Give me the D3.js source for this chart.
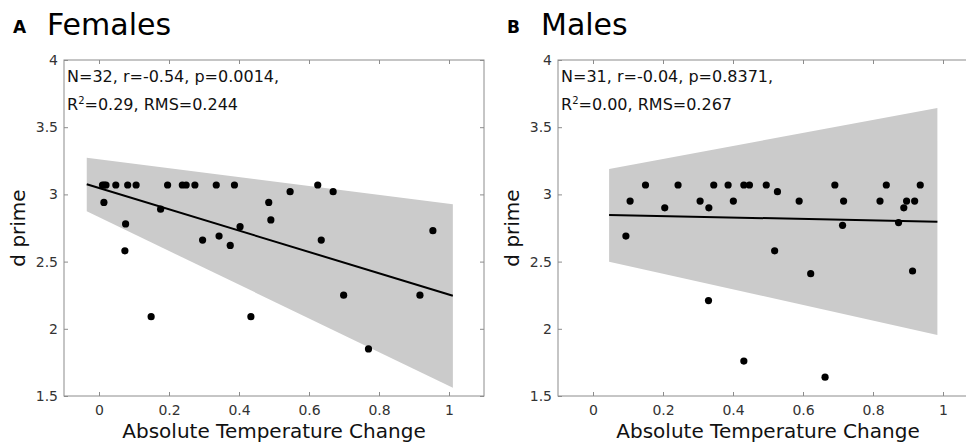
<!DOCTYPE html>
<html>
<head>
<meta charset="utf-8">
<script src="https://cdn.jsdelivr.net/npm/d3@7"></script>
<style>
  body { margin: 0; background: #fff; }
  svg { font-family: "DejaVu Sans", sans-serif; display: block; }
</style>
</head>
<body>
<svg id="chart" width="966" height="446"></svg>
<script>
// values
const xTicks = [0, 0.2, 0.4, 0.6, 0.8, 1];
const yTicks = [1.5, 2, 2.5, 3, 3.5, 4];

const femalesX = [0.010, 0.020, 0.014, 0.048, 0.082, 0.106, 0.076, 0.074, 0.149, 0.176,
                  0.196, 0.238, 0.249, 0.274, 0.296, 0.335, 0.343, 0.375, 0.387, 0.403,
                  0.434, 0.485, 0.491, 0.546, 0.625, 0.635, 0.669, 0.699, 0.770, 0.917,
                  0.954, 0.015];
const femalesY = [3.07, 3.07, 2.94, 3.07, 3.07, 3.07, 2.78, 2.58, 2.09, 2.89,
                  3.07, 3.07, 3.07, 3.07, 2.66, 3.07, 2.69, 2.62, 3.07, 2.76,
                  2.09, 2.94, 2.81, 3.02, 3.07, 2.66, 3.02, 2.25, 1.85, 2.25,
                  2.73, 3.07];
const femalesFitX = [-0.035, 1.011];
const femalesFitY = [3.075, 2.246];
const femalesBandLow = [2.874, 1.562];
const femalesBandHigh = [3.273, 2.926];
const femalesStats = ["N=32, r=-0.54, p=0.0014,", "0.29", "0.244"];

const malesX = [0.094, 0.106, 0.150, 0.205, 0.243, 0.306, 0.331, 0.330, 0.345, 0.386,
                0.401, 0.431, 0.447, 0.431, 0.495, 0.527, 0.519, 0.589, 0.622, 0.663,
                0.691, 0.716, 0.713, 0.820, 0.838, 0.873, 0.888, 0.896, 0.913, 0.919,
                0.935];
const malesY = [2.69, 2.95, 3.07, 2.90, 3.07, 2.95, 2.90, 2.21, 3.07, 3.07,
                2.95, 3.07, 3.07, 1.76, 3.07, 3.02, 2.58, 2.95, 2.41, 1.64,
                3.07, 2.95, 2.77, 2.95, 3.07, 2.79, 2.90, 2.95, 2.43, 2.95,
                3.07];
const malesFitX = [0.046, 0.984];
const malesFitY = [2.847, 2.797];
const malesBandLow = [2.499, 1.954];
const malesBandHigh = [3.189, 3.643];
const malesStats = ["N=31, r=-0.04, p=0.8371,", "0.00", "0.267"];

const svg = d3.select("#chart");

function drawPanel(opt) {
    let g = svg.append("g");
    let x = d3.scaleLinear().domain([-0.1, 1.1]).range([opt.left, opt.left + 420]);
    let y = d3.scaleLinear().domain([1.5, 4]).range([396, 60]);

    // confidence band
    let band = opt.fitX.map((v, i) => ({x: v, lo: opt.low[i], hi: opt.high[i]}));
    g.append("path")
        .datum(band)
        .attr("fill", "#cbcbcb")
        .attr("d", d3.area().x(d => x(d.x)).y0(d => y(d.lo)).y1(d => y(d.hi)));

    // box + inward ticks
    g.append("rect")
        .attr("x", x(-0.1)).attr("y", y(4))
        .attr("width", x(1.1) - x(-0.1)).attr("height", y(1.5) - y(4))
        .attr("fill", "none").attr("stroke", "#8c8c8c").attr("stroke-width", 1);

    let axes = [
        [d3.axisBottom(x).tickValues(xTicks).tickFormat(d3.format("")), 0, y(1.5)],
        [d3.axisTop(x).tickValues(xTicks).tickFormat(""), 0, y(4)],
        [d3.axisLeft(y).tickValues(yTicks).tickFormat(d3.format("")), x(-0.1), 0],
        [d3.axisRight(y).tickValues(yTicks).tickFormat(""), x(1.1), 0]
    ];
    axes.forEach(a => {
        let ax = g.append("g")
            .attr("transform", `translate(${a[1]},${a[2]})`)
            .call(a[0].tickSizeInner(-4).tickSizeOuter(0).tickPadding(a[1] > 0 && a[2] == 0 ? 6 : 9));
        ax.select(".domain").remove();
        ax.selectAll(".tick line").attr("stroke", "#8c8c8c");
        ax.selectAll(".tick text")
            .attr("fill", "#333")
            .style("font-size", "14px")
            .style("font-family", "DejaVu Sans, sans-serif");
    });

    // points
    g.selectAll("circle")
        .data(opt.xs.map((v, i) => [v, opt.ys[i]]))
        .join("circle")
        .attr("cx", d => x(d[0]))
        .attr("cy", d => y(d[1]))
        .attr("r", 3.6)
        .attr("fill", "#000");

    // fit line
    g.append("path")
        .datum(opt.fitX.map((v, i) => [v, opt.fitY[i]]))
        .attr("fill", "none")
        .attr("stroke", "#000")
        .attr("stroke-width", 2)
        .attr("d", d3.line().x(d => x(d[0])).y(d => y(d[1])));

    // stats text
    g.append("text")
        .attr("x", opt.left + 3).attr("y", 82)
        .style("font-size", "16px").attr("fill", "#111")
        .text(opt.stats[0]);
    let t2 = g.append("text")
        .attr("x", opt.left + 3).attr("y", 110)
        .style("font-size", "16px").attr("fill", "#111");
    t2.append("tspan").text("R");
    t2.append("tspan").attr("dy", -6).style("font-size", "10px").text("2");
    t2.append("tspan").attr("dy", 6).text("=" + opt.stats[1] + ", RMS=" + opt.stats[2]);

    // axis labels
    g.append("text")
        .attr("x", (x(-0.1) + x(1.1)) / 2).attr("y", 438)
        .attr("text-anchor", "middle")
        .style("font-size", "20px").attr("fill", "#111")
        .text("Absolute Temperature Change");
    g.append("text")
        .attr("transform", `translate(${opt.left - 39},${(y(1.5) + y(4)) / 2}) rotate(-90)`)
        .attr("text-anchor", "middle")
        .style("font-size", "20px").attr("fill", "#111")
        .text("d prime");

    // panel title
    g.append("text")
        .attr("x", opt.left - 51).attr("y", 33)
        .style("font-size", "17px").style("font-weight", "bold")
        .text(opt.letter);
    g.append("text")
        .attr("x", opt.left - 17).attr("y", 35)
        .style("font-size", "30px")
        .text(opt.title);
}

drawPanel({
    left: 64, letter: "A", title: "Females",
    xs: femalesX, ys: femalesY, fitX: femalesFitX, fitY: femalesFitY,
    low: femalesBandLow, high: femalesBandHigh, stats: femalesStats
});
drawPanel({
    left: 558, letter: "B", title: "Males",
    xs: malesX, ys: malesY, fitX: malesFitX, fitY: malesFitY,
    low: malesBandLow, high: malesBandHigh, stats: malesStats
});
</script>
</body>
</html>
